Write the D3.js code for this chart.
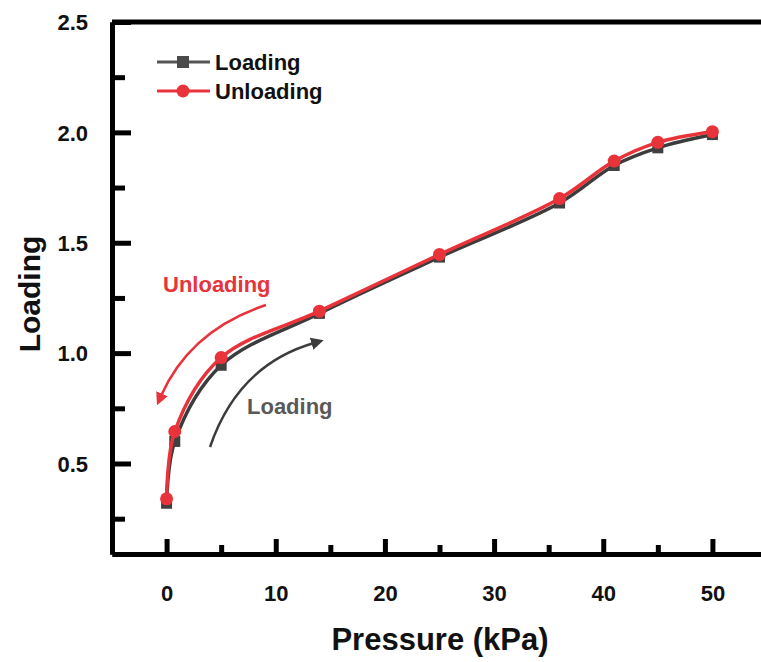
<!DOCTYPE html>
<html><head><meta charset="utf-8">
<script src="https://cdn.jsdelivr.net/npm/d3@7"></script>
<style>body{margin:0;background:#fff}svg{display:block}text{font-family:"Liberation Sans",Arial,sans-serif;font-weight:bold}</style>
</head><body>
<svg id="c" width="761" height="662"></svg>
<script>
const pressure = [0, 0.75, 5, 14, 25, 36, 41, 45, 50];
const loadingVals = [0.32, 0.60, 0.945, 1.18, 1.435, 1.68, 1.85, 1.93, 1.99];
const unloadingVals = [0.34, 0.645, 0.98, 1.19, 1.447, 1.70, 1.87, 1.955, 2.003];
const xTicks = [0, 10, 20, 30, 40, 50];
const xMinor = [-5, 5, 15, 25, 35, 45, 55];
const yTicks = [0.5, 1.0, 1.5, 2.0, 2.5];
const yMinor = [0.25, 0.75, 1.25, 1.75, 2.25];
const seriesNames = ["Loading", "Unloading"];

const RED = "#e8333b", DARK = "#3c3c3c";
const svg = d3.select("#c");
const x = d3.scaleLinear().domain([-5, 55]).range([112, 767]);
const y = d3.scaleLinear().domain([0.09, 2.5]).range([554, 22]);

// frame
const fr = svg.append("g").attr("stroke", "#000").attr("stroke-width", 5).attr("fill", "none");
fr.append("path").attr("d", `M${x(-5)},${y(2.5)}H${x(55)}`);

// axes
const xAxis = svg.append("g").attr("transform", `translate(0,${y(0.09)})`);
xAxis.call(d3.axisBottom(x).tickValues(xTicks).tickSizeInner(-15).tickSizeOuter(0).tickPadding(38).tickFormat(d3.format("d")));
xAxis.append("g").call(d3.axisBottom(x).tickValues(xMinor).tickSizeInner(-9).tickSizeOuter(0).tickFormat(""));
const yAxis = svg.append("g").attr("transform", `translate(${x(-5)},0)`);
yAxis.call(d3.axisLeft(y).tickValues(yTicks).tickSizeInner(-19).tickSizeOuter(0).tickPadding(24).tickFormat(d3.format(".1f")));
yAxis.append("g").call(d3.axisLeft(y).tickValues(yMinor).tickSizeInner(-13).tickSizeOuter(0).tickFormat(""));
svg.selectAll(".domain").attr("stroke", "#000").attr("stroke-width", 5);
svg.selectAll(".tick line").attr("stroke", "#000").attr("stroke-width", 5);
svg.selectAll(".tick text").attr("font-size", 22).attr("font-weight", "bold").attr("fill", "#111").attr("font-family", '"Liberation Sans",Arial,sans-serif');
xAxis.selectAll(".tick text").attr("dy", "0.4em");
yAxis.selectAll(".tick text").attr("dy", "0.35em");

// lines
const line = d3.line().x(d => x(d[0])).y(d => y(d[1])).curve(d3.curveCatmullRom.alpha(0.5));
const lData = pressure.map((p, i) => [p, loadingVals[i]]);
const uData = pressure.map((p, i) => [p, unloadingVals[i]]);
svg.append("path").attr("d", line(lData)).attr("fill", "none").attr("stroke", DARK).attr("stroke-width", 3.5);
svg.selectAll(".sq").data(lData).join("rect")
  .attr("x", d => x(d[0]) - 5.5).attr("y", d => y(d[1]) - 5.5).attr("width", 11).attr("height", 11).attr("fill", "#404040");
svg.append("path").attr("d", line(uData)).attr("fill", "none").attr("stroke", RED).attr("stroke-width", 3.5);
svg.selectAll(".ci").data(uData).join("circle")
  .attr("cx", d => x(d[0])).attr("cy", d => y(d[1])).attr("r", 6.5).attr("fill", RED);

// legend
const lg = svg.append("g");
[[seriesNames[0], 62, "#555", "sq"], [seriesNames[1], 91, RED, "ci"]].forEach(([t, yy, c, m]) => {
  lg.append("line").attr("x1", 157).attr("x2", 210).attr("y1", yy).attr("y2", yy).attr("stroke", c).attr("stroke-width", 3);
  if (m === "sq") lg.append("rect").attr("x", 177).attr("y", yy - 6).attr("width", 12).attr("height", 12).attr("fill", "#4a4a4a");
  else lg.append("circle").attr("cx", 183).attr("cy", yy).attr("r", 6.5).attr("fill", RED);
  lg.append("text").attr("x", 215).attr("y", yy + 8).attr("font-size", 22).attr("fill", "#111").text(t);
});

// annotations
const defs = svg.append("defs");
[["ar", RED], ["ag", DARK]].forEach(([id, c]) => {
  defs.append("marker").attr("id", id).attr("viewBox", "0 0 10 10").attr("refX", 2).attr("refY", 5)
    .attr("markerWidth", 5).attr("markerHeight", 5).attr("orient", "auto-start-reverse").attr("markerUnits", "strokeWidth")
    .append("path").attr("d", "M0,0L10,5L0,10Z").attr("fill", c);
});
svg.append("path").attr("d", "M266,305 Q190,330 161,396").attr("fill", "none").attr("stroke", RED).attr("stroke-width", 2.5).attr("marker-end", "url(#ar)");
svg.append("path").attr("d", "M210,447 Q238,365 314,343").attr("fill", "none").attr("stroke", DARK).attr("stroke-width", 2.5).attr("marker-end", "url(#ag)");
svg.append("text").attr("x", 163).attr("y", 292).attr("font-size", 22).attr("fill", RED).text("Unloading");
svg.append("text").attr("x", 247).attr("y", 414).attr("font-size", 22).attr("fill", "#595959").text("Loading");

// axis titles
svg.append("text").attr("x", 440).attr("y", 650).attr("text-anchor", "middle").attr("font-size", 31).attr("fill", "#111").text("Pressure (kPa)");
svg.append("text").attr("transform", "translate(40,294) rotate(-90)").attr("text-anchor", "middle").attr("font-size", 30).attr("fill", "#111").text("Loading");
</script>
</body></html>
